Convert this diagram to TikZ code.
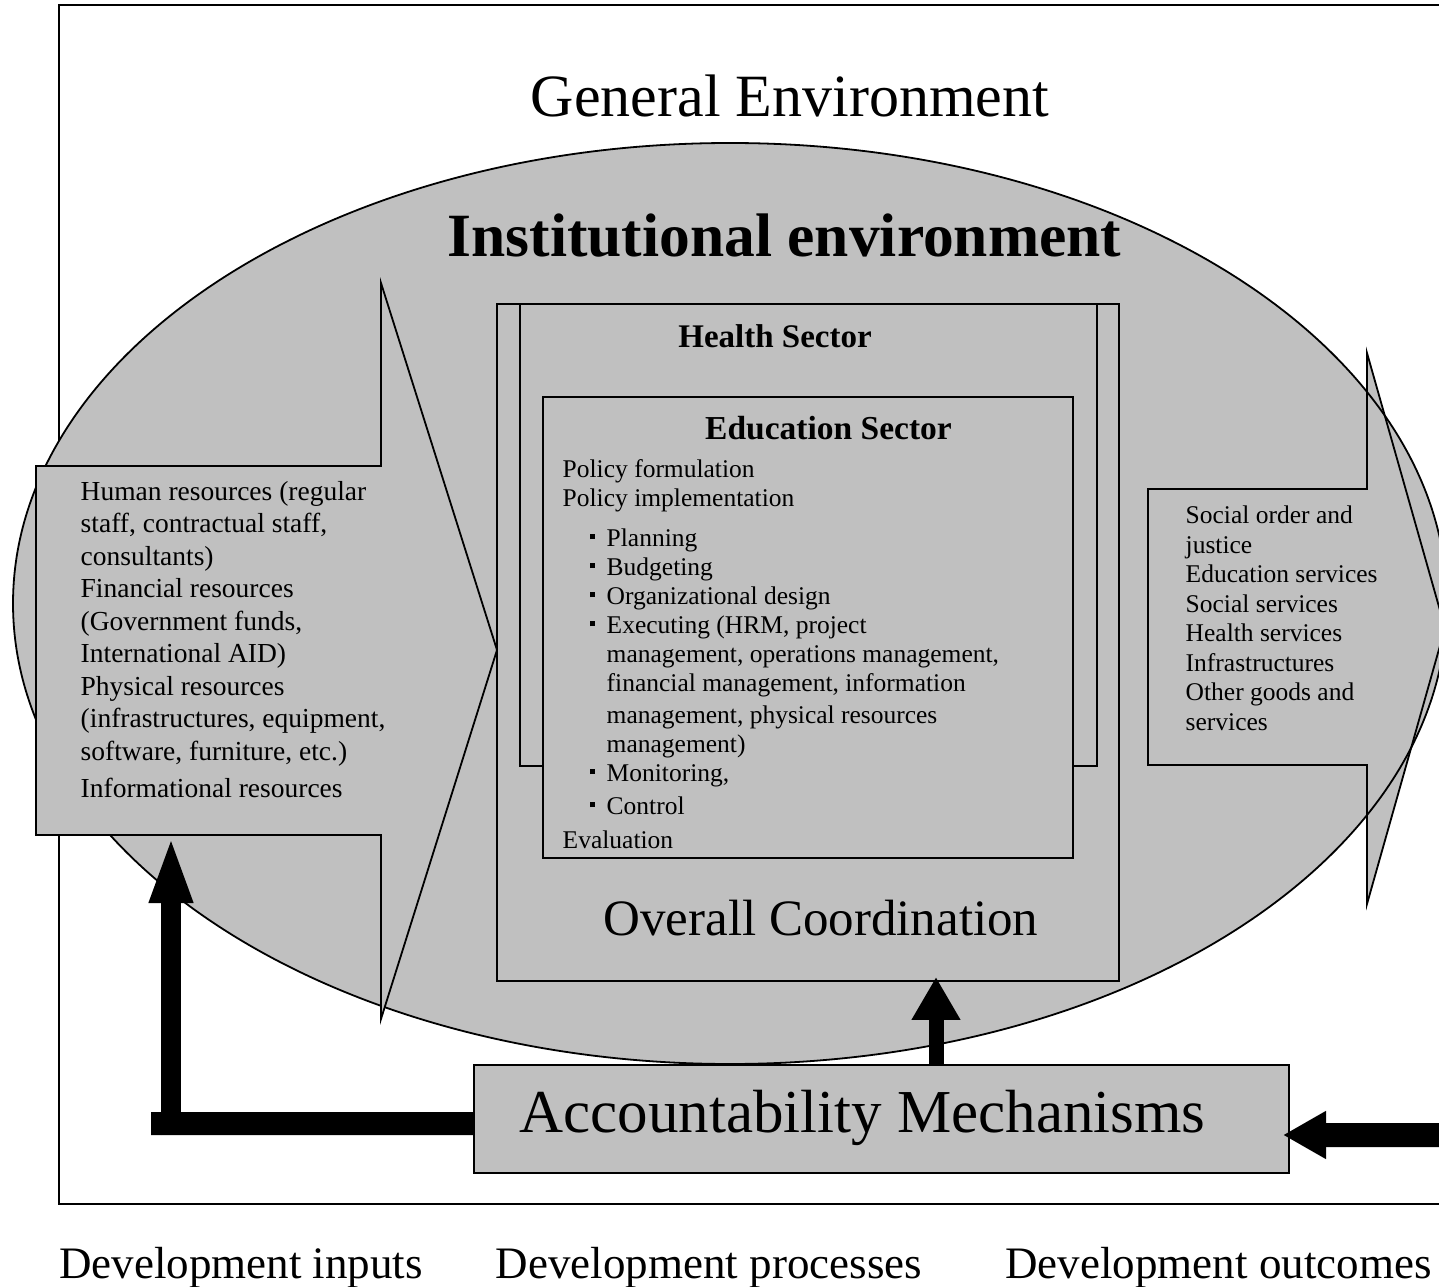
\documentclass[tikz,border=0pt]{standalone}
\usepackage{fontspec}
\setmainfont{Liberation Serif}
\usepackage{tikz}
\usetikzlibrary{arrows.meta,positioning}

\definecolor{panel}{RGB}{192,192,192}

% bullet and hanging indent for the process list
\newcommand{\bul}{\hspace*{2.7mm}\rule[0.75mm]{0.5mm}{0.55mm}\hspace*{1.2mm}}
\newcommand{\cont}{\hspace*{4.4mm}}

\begin{document}
\begin{tikzpicture}[
    x=0.1mm, y=-0.1mm,
    outline/.style={draw=black, line width=0.18mm},
    panelbox/.style={outline, fill=panel, inner sep=0pt, outer sep=0pt},
    blockarrow/.style={outline, fill=panel, line join=miter},
    body/.style={align=left, anchor=north west, inner sep=0pt},
    title/.style={anchor=base, inner sep=0pt},
    bigtext/.style={font=\fontsize{6mm}{7mm}\selectfont},
    bottomtext/.style={title, font=\fontsize{4.5mm}{5.5mm}\selectfont}
  ]
  \clip (0,0) rectangle (1439,1287);

  % general environment frame, open to the right
  \draw[outline] (1439,5) -- (59,5) -- (59,1204) -- (1439,1204);
  \node[title, bigtext] (general) at (790,117) {General Environment};

  % institutional environment
  \filldraw[outline, fill=panel] (730,603.5) ellipse [x radius=71.7mm, y radius=46.05mm];
  \node[title, font=\bfseries\fontsize{6.15mm}{7mm}\selectfont] (institutional) at (784.5,257) {Institutional environment};

  % inputs and outcomes
  \draw[blockarrow] (36,466) -- (381,466) -- (381,283) -- (497,650) -- (381,1019) -- (381,835) -- (36,835) -- cycle;
  \draw[blockarrow] (1148,489) -- (1367,489) -- (1367,353) -- (1445,628) -- (1367,904) -- (1367,765) -- (1148,765) -- cycle;
  \begin{scope}
    \clip (1367,353) -- (1445,628) -- (1367,904) -- cycle;
    \draw[outline] (730,603.5) ellipse [x radius=71.7mm, y radius=46.05mm];
  \end{scope}

  \node[body, font=\fontsize{2.75mm}{3.25mm}\selectfont] (inputs) at (80,477) {\strut Human resources (regular\\
    staff, contractual staff,\\
    consultants)\\
    Financial resources\\
    (Government funds,\\
    International AID)\\
    Physical resources\\
    (infrastructures, equipment,\\
    software, furniture, etc.)\\[0.45mm]
    Informational resources};

  \node[body, font=\fontsize{2.55mm}{2.95mm}\selectfont] (outcomes) at (1185,502.4) {\strut Social order and\\
    justice\\
    Education services\\
    Social services\\
    Health services\\
    Infrastructures\\
    Other goods and\\
    services};

  % processes
  \node[panelbox, minimum width=62.2mm, minimum height=67.7mm] (overall) at (808,642.5) {};
  \node[panelbox, minimum width=57.7mm, minimum height=46.2mm] (health) at (808.5,535) {};
  \node[panelbox, minimum width=53mm, minimum height=46.1mm] (education) at (808,627.5) {};

  \node[title, font=\bfseries\fontsize{3.3mm}{4mm}\selectfont] (healthtitle) at (775,348) {Health Sector};
  \node[title, font=\bfseries\fontsize{3.35mm}{4mm}\selectfont] (edutitle) at (828.5,440) {Education Sector};
  \node[body, font=\fontsize{2.55mm}{2.9mm}\selectfont] (tasks) at (562,456.7) {\strut Policy formulation\\
    Policy implementation\\[1.1mm]
    \bul Planning\\
    \bul Budgeting\\
    \bul Organizational design\\
    \bul Executing (HRM, project\\
    \cont management, operations management,\\
    \cont financial management, information\\[0.3mm]
    \cont management, physical resources\\
    \cont management)\\
    \bul Monitoring,\\[0.4mm]
    \bul Control\\[0.5mm]
    Evaluation};
  \node[title, font=\fontsize{5.1mm}{6mm}\selectfont] (coordtitle) at (821,935) {Overall Coordination};

  % accountability loop
  \node[panelbox, minimum width=81.5mm, minimum height=10.8mm] (acc) at (881.5,1119) {};
  \node[title, font=\fontsize{6.1mm}{7mm}\selectfont] (acctitle) at (862.5,1132) {Accountability Mechanisms};

  \coordinate (bend) at (151,1123.5);
  \coordinate (upfoot) at (171,1135);
  \coordinate (intake) at (171,835);
  \coordinate (outfoot) at (1460,1135);

  \draw[line width=2.3mm] ([yshift=-0.45mm]acc.west) -- (bend);
  \draw[line width=2mm, -{Triangle[width=3.9mm, length=6.8mm]}] (upfoot) -- (intake);
  \draw[line width=1.5mm, -{Triangle[width=4.6mm, length=4.3mm]}, shorten >=-0.4mm]
    ([xshift=5.45mm]acc.north) -- ([xshift=5.45mm]acc.north |- overall.south);
  \draw[line width=2.4mm, -{Triangle[width=4.5mm, length=4.3mm]}, shorten >=-0.6mm]
    (outfoot) -- ([yshift=-1.6mm]acc.east);

  % stages along the bottom
  \node[bottomtext] (instage) at (241,1278) {Development inputs};
  \node[bottomtext] (procstage) at (709,1278) {Development processes};
  \node[bottomtext] (outstage) at (1218.5,1278) {Development outcomes};
\end{tikzpicture}
\end{document}
